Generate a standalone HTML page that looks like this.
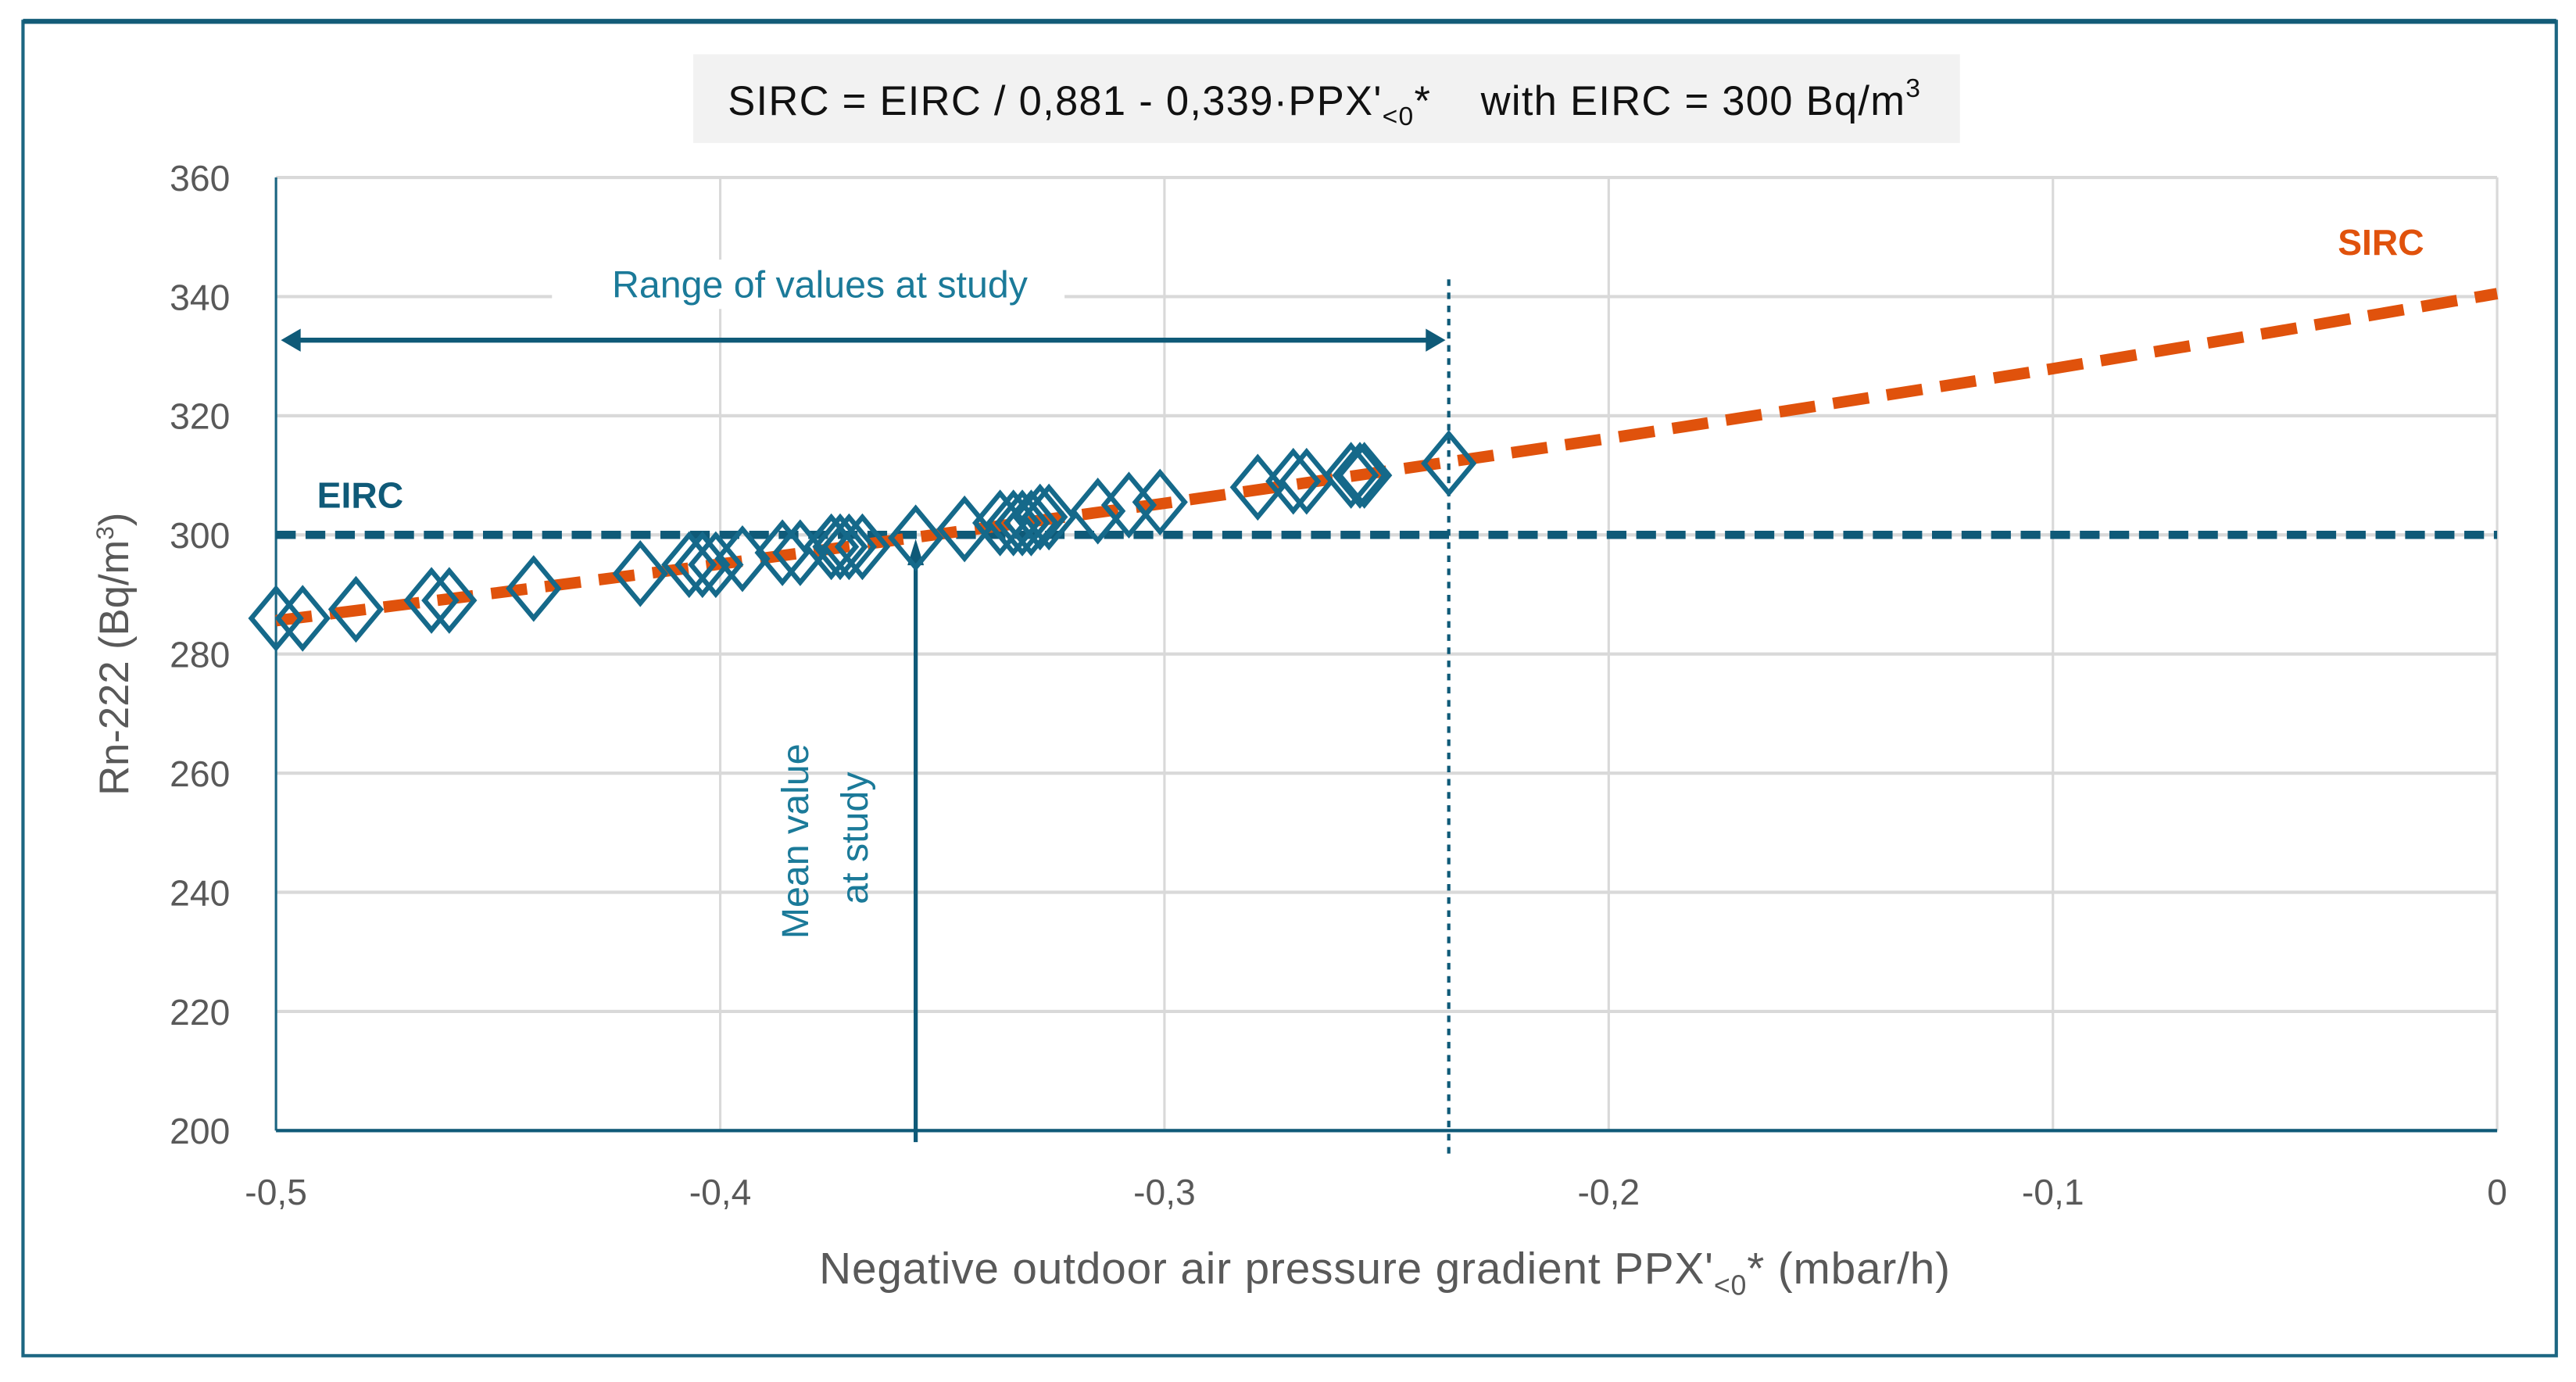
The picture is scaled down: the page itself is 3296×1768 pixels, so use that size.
<!DOCTYPE html>
<html><head><meta charset="utf-8"><style>
html,body{margin:0;padding:0;background:#fff;}
svg{display:block;font-family:"Liberation Sans",Arial,sans-serif;}
</style></head><body>
<svg id="chart" width="3296" height="1768" viewBox="0 0 1568 841" preserveAspectRatio="none" xmlns="http://www.w3.org/2000/svg">
<rect x="14" y="13" width="1542" height="812" fill="#fff" stroke="#1c6682" stroke-width="2"/>
<line x1="14" y1="13" x2="1556" y2="13" stroke="#135c78" stroke-width="3"/>
<g id="grid"></g>
<rect x="422" y="33" width="771" height="54" fill="#f2f2f2"/>
<text x="443" y="70" font-size="25" letter-spacing="0.6" fill="#111">SIRC = EIRC / 0,881 - 0,339·PPX'<tspan font-size="16" dy="6">&lt;0</tspan><tspan dy="-6">*&#160;&#160;&#160; with EIRC = 300 Bq/m</tspan><tspan font-size="16" dy="-11">3</tspan></text>
<g id="axes"></g>
<g id="series"></g>
<text transform="translate(78,398) rotate(-90)" text-anchor="middle" font-size="25" fill="#595959">Rn-222 (Bq/m<tspan font-size="15" dy="-9">3</tspan><tspan dy="9">)</tspan></text>
<text x="843" y="781" text-anchor="middle" font-size="27" letter-spacing="0.4" fill="#595959">Negative outdoor air pressure gradient PPX'<tspan font-size="17" dy="7">&lt;0</tspan><tspan dy="-7">* (mbar/h)</tspan></text>
<text x="193" y="309" font-size="22" font-weight="bold" fill="#0f5a78">EIRC</text>
<text x="1423" y="155" font-size="22" font-weight="bold" fill="#e0520c">SIRC</text>
<rect x="336" y="158" width="312" height="30" fill="#fff"/>
<text x="499" y="181" text-anchor="middle" font-size="23" fill="#1b7a99">Range of values at study</text>
<text transform="translate(492,512) rotate(-90)" text-anchor="middle" font-size="23" fill="#1b7a99">Mean value</text>
<text transform="translate(528,510) rotate(-90)" text-anchor="middle" font-size="23" fill="#1b7a99">at study</text>
</svg>
<script>
const xTicks=[-0.5,-0.4,-0.3,-0.2,-0.1,0];
const xTickLabels=["-0,5","-0,4","-0,3","-0,2","-0,1","0"];
const yTicks=[200,220,240,260,280,300,320,340,360];
const pointX=[-0.5,-0.494,-0.482,-0.465,-0.461,-0.442,-0.418,-0.407,-0.404,-0.401,-0.395,-0.386,-0.382,-0.375,-0.373,-0.371,-0.368,-0.356,-0.345,-0.337,-0.334,-0.332,-0.330,-0.328,-0.326,-0.315,-0.308,-0.301,-0.279,-0.271,-0.268,-0.258,-0.256,-0.255,-0.236];
const pointY=[286,286,287.5,289,289,291,293.5,295,295,295,296,297,297,298,298,298,298,299.5,301,302,302,302,302,303,303,304,305,305.5,308,309,309,310,310,310,312];
const sircX=[-0.5,-0.45,-0.4,-0.35,-0.3,-0.25,-0.2,-0.15,-0.1,-0.05,0];
const sircY=[285.6,290.3,295.1,300.2,305.3,310.7,316.2,322.0,327.9,334.1,340.5];
const eircValue=[300];
const rangeX=[-0.5,-0.236];
const meanX=[-0.356];

const NS="http://www.w3.org/2000/svg";
const X0=168,X1=1520,Y0=688,Y1=108;
const sx=v=>X0+(v+0.5)/0.5*(X1-X0);
const sy=v=>Y0-(v-200)/160*(Y0-Y1);
function mk(tag,attrs,parent){const e=document.createElementNS(NS,tag);for(const k in attrs)e.setAttribute(k,attrs[k]);parent.appendChild(e);return e;}
const grid=document.getElementById('grid'),axes=document.getElementById('axes'),ser=document.getElementById('series');
yTicks.forEach(t=>{
 const l=mk('line',{x1:X0,x2:X1,y1:sy(t),y2:sy(t),stroke:'#d9d9d9','stroke-width':2},grid);
 
 
 const tx=mk('text',{x:140,y:sy(t)+8,'text-anchor':'end','font-size':22,fill:'#595959'},axes);
 tx.textContent=t;
 
 
});
xTicks.forEach((t,i)=>{
 if(i>0){const l=mk('line',{x1:sx(t),x2:sx(t),y1:Y1,y2:Y0,stroke:'#d9d9d9','stroke-width':1.5},grid);
 
 }
 const tx=mk('text',{x:sx(t),y:733,'text-anchor':'middle','font-size':22,fill:'#595959'},axes);
 tx.textContent=xTickLabels[i];
 
 
});
let a=mk('line',{x1:X0,x2:X0,y1:Y1,y2:Y0,stroke:'#1c6682','stroke-width':1.5},axes);


a=mk('line',{x1:X0,x2:X1,y1:Y0,y2:Y0,stroke:'#0f5a78','stroke-width':2},axes);


let e=mk('line',{x1:X0,x2:X1,y1:sy(eircValue[0]),y2:sy(eircValue[0]),stroke:'#0f5a78','stroke-width':5,'stroke-dasharray':'12 6'},ser);


let d='';sircX.forEach((v,i)=>{d+=(i?'L':'M')+sx(v)+','+sy(sircY[i]);});
let s=mk('path',{d:d,fill:'none',stroke:'#e0520c','stroke-width':7,'stroke-dasharray':'22 11'},ser);


let v=mk('line',{x1:sx(rangeX[1]),x2:sx(rangeX[1]),y1:170,y2:706,stroke:'#0f5a78','stroke-width':2,'stroke-dasharray':'4 4'},ser);


const ry=207,ra=sx(rangeX[0])+3,rb=sx(rangeX[1])-2;
let ar=mk('g',{},ser);


mk('line',{x1:ra+8,x2:rb-8,y1:ry,y2:ry,stroke:'#0f5a78','stroke-width':3},ar);
mk('path',{d:`M${ra},${ry} L${ra+12},${ry-7} L${ra+12},${ry+7}Z`,fill:'#0f5a78'},ar);
mk('path',{d:`M${rb},${ry} L${rb-12},${ry-7} L${rb-12},${ry+7}Z`,fill:'#0f5a78'},ar);
const mx=sx(meanX[0]);
let ma=mk('g',{},ser);


mk('line',{x1:mx,x2:mx,y1:695,y2:340,stroke:'#0f5a78','stroke-width':2.5},ma);
mk('path',{d:`M${mx},328 L${mx-5},344 L${mx+5},344Z`,fill:'#0f5a78'},ma);
pointX.forEach((px,i)=>{
 const cx=sx(px),cy=sy(pointY[i]);
 const p=mk('path',{d:`M${cx},${cy-18} L${cx+15},${cy} L${cx},${cy+18} L${cx-15},${cy}Z`,fill:'none',stroke:'#15698a','stroke-width':3},ser);
 
 
});
</script>
</body></html>
